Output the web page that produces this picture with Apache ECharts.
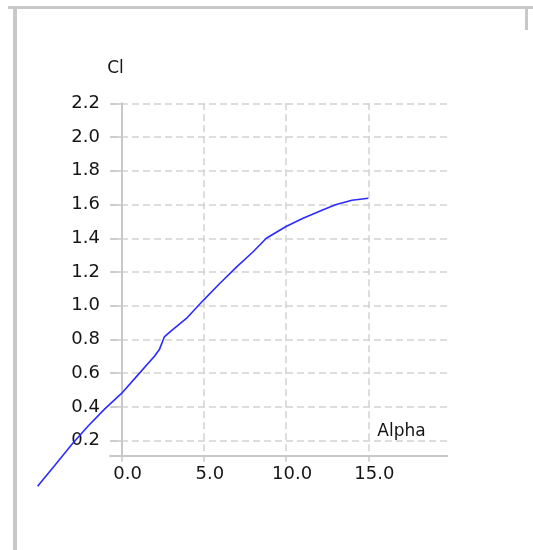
<!DOCTYPE html>
<html>
<head>
<meta charset="utf-8">
<script src="https://cdn.jsdelivr.net/npm/echarts@6/dist/echarts.min.js"></script>
<style>
html,body{margin:0;padding:0;background:#fff;}
#chart{width:533px;height:550px;}
</style>
</head>
<body>
<div id="chart"></div>
<script>
// Data
const alpha = [-5.1, -4, -3, -2, -1, 0, 1, 2, 2.3, 2.6, 3, 4, 5, 6, 7, 8, 8.8, 10, 11, 12, 13, 14, 15];
const cl    = [-0.07, 0.06, 0.18, 0.29, 0.39, 0.48, 0.59, 0.70, 0.74, 0.815, 0.85, 0.93, 1.035, 1.135, 1.23, 1.32, 1.40, 1.47, 1.517, 1.558, 1.598, 1.625, 1.637];
const xTicks = [0, 5, 10, 15];
const yTicks = [0.2, 0.4, 0.6, 0.8, 1.0, 1.2, 1.4, 1.6, 1.8, 2.0, 2.2];
const xName = 'Alpha';
const yName = 'Cl';

const chart = echarts.init(document.getElementById('chart'), null, {renderer: 'canvas'});
const font = 'DejaVu Sans';
const gridColor = '#d2d2d2';
const axisColor = '#c8c8c8';
const textColor = '#151515';

// scale shared by both grids (px per unit)
const X0 = -0.7, X1 = 19.8, Y0 = 0.111, Y1 = 2.2;
const gL = 110, gR = 447.3, gT = 103.3, gB = 455.7;
const pxX = (gR - gL) / (X1 - X0), pxY = (gB - gT) / (Y1 - Y0);
// wider hidden grid carrying the curve so it can run past the visible axes
const X0b = -6, Y0b = -0.2;

chart.setOption({
  animation: false,
  graphic: [
    {type: 'rect', shape: {x: 8, y: 6, width: 525, height: 3}, style: {fill: '#c8c8c8'}},
    {type: 'rect', shape: {x: 13, y: 6, width: 4, height: 544}, style: {fill: '#c8c8c8'}},
    {type: 'rect', shape: {x: 525, y: 6, width: 3, height: 24}, style: {fill: '#c8c8c8'}}
  ],
  grid: [
    {left: gL, right: 533 - gR, top: gT, bottom: 550 - gB, outerBoundsMode: 'none'},
    {left: gL - (X0 - X0b) * pxX, right: 533 - gR, top: gT, bottom: 550 - gB - (Y0 - Y0b) * pxY, outerBoundsMode: 'none'}
  ],
  xAxis: [{
    type: 'value',
    gridIndex: 0,
    min: X0, max: X1,
    name: xName,
    nameLocation: 'end',
    nameGap: -70,
    nameTextStyle: {fontFamily: font, fontSize: 17, color: textColor, align: 'left', verticalAlign: 'bottom', padding: [0, 0, 16, 0]},
    axisLine: {show: true, onZero: false, lineStyle: {color: axisColor, width: 2}},
    axisTick: {show: true, customValues: xTicks, length: 6, lineStyle: {color: axisColor, width: 1.5}},
    axisLabel: {customValues: xTicks, fontFamily: font, fontSize: 18, color: textColor, margin: 10, padding: [0, 0, 0, 12],
      formatter: v => v.toFixed(1)},
    splitLine: {show: true, lineStyle: {color: gridColor, type: [7, 4], width: 1.5}}
  }, {
    type: 'value', gridIndex: 1, min: X0b, max: X1, show: false, splitLine: {show: false}
  }],
  yAxis: [{
    type: 'value',
    gridIndex: 0,
    min: Y0, max: Y1,
    name: yName,
    nameLocation: 'end',
    nameGap: 26,
    nameTextStyle: {fontFamily: font, fontSize: 17, color: textColor, padding: [0, 12, 0, 0]},
    axisLine: {show: true, onZero: true, lineStyle: {color: axisColor, width: 2}},
    axisTick: {show: true, customValues: yTicks, length: 11, lineStyle: {color: axisColor, width: 1.5}},
    axisLabel: {customValues: yTicks, fontFamily: font, fontSize: 18, color: textColor, margin: 10,
      formatter: v => v.toFixed(1)},
    splitLine: {show: true, lineStyle: {color: gridColor, type: [7, 4], width: 1.5}}
  }, {
    type: 'value', gridIndex: 1, min: Y0b, max: Y1, show: false, splitLine: {show: false}
  }],
  series: [{
    type: 'line',
    xAxisIndex: 1, yAxisIndex: 1,
    data: alpha.map((a, i) => [a, cl[i]]),
    showSymbol: false,
    clip: false,
    lineStyle: {color: '#2b2bff', width: 1.6},
    silent: true
  }]
});
</script>
</body>
</html>
